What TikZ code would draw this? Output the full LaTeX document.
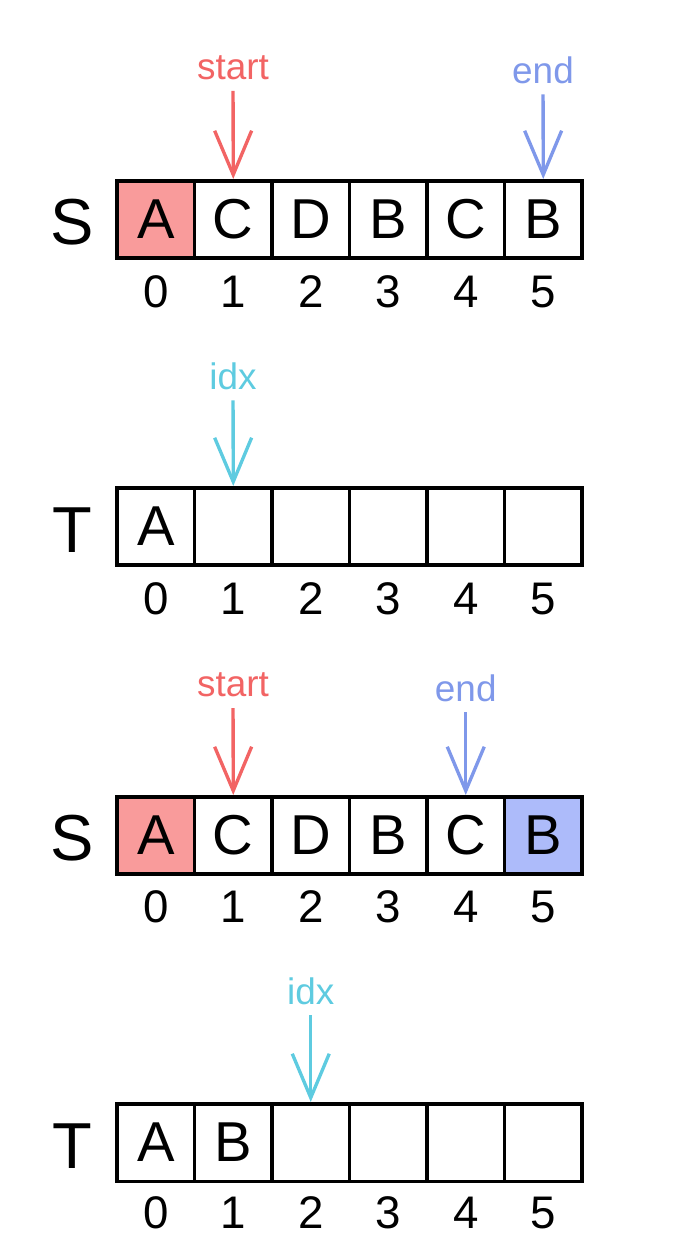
\documentclass[tikz,border=0pt]{standalone}
\usepackage{fontspec}
\setmainfont{Liberation Sans}
\usetikzlibrary{arrows.meta, positioning}

\definecolor{startred}{HTML}{F26464}
\definecolor{startfill}{HTML}{F99B9B}
\definecolor{endblue}{HTML}{7F98EA}
\definecolor{endfill}{HTML}{ADBBFA}
\definecolor{idxcyan}{HTML}{5ECBE0}

\begin{document}
\begin{tikzpicture}[x=0.02cm, y=-0.02cm,
  cell/.style={rectangle, draw, line width=2pt, minimum size=1.55cm,
    inner sep=0pt, font=\fontsize{32}{32}\selectfont},
  num/.style={font=\fontsize{26}{26}\selectfont},
  rowname/.style={font=\fontsize{37}{37}\selectfont},
  ptr/.style={font=\fontsize{21}{21}\selectfont, inner sep=6pt},
  arr/.style={-{Straight Barb[length=0.88cm, width=0.74cm]}, line width=1.9pt}
]
\useasboundingbox (0,0) rectangle (698,1256);

% Row 1: S
\node[rowname] (s1) at (72,222) {S};
\foreach \i/\c/\f in {0/A/startfill, 1/C/white, 2/D/white, 3/B/white, 4/C/white, 5/B/white} {
  \node[cell, fill=\f] (sa\i) at (155.75+77.5*\i, 219.5) {\c};
  \node[num] (na\i) at (155.75+77.5*\i, 292) {\i};
}
\node[ptr, text=startred] (starta) at (233,68) {start};
\node[ptr, text=endblue] (enda) at (543,70) {end};

% Row 2: T
\node[rowname] (t1) at (72,530) {T};
\foreach \i/\c in {0/A, 1/, 2/, 3/, 4/, 5/} {
  \node[cell] (ta\i) at (155.75+77.5*\i, 526.5) {\c};
  \node[num] (ma\i) at (155.75+77.5*\i, 599) {\i};
}
\node[ptr, text=idxcyan] (idxa) at (233,376) {idx};

% Row 3: S
\node[rowname] (s2) at (72,838) {S};
\foreach \i/\c/\f in {0/A/startfill, 1/C/white, 2/D/white, 3/B/white, 4/C/white, 5/B/endfill} {
  \node[cell, fill=\f] (sb\i) at (155.75+77.5*\i, 835.5) {\c};
  \node[num] (nb\i) at (155.75+77.5*\i, 907) {\i};
}
\node[ptr, text=startred] (startb) at (233,685) {start};
\node[ptr, text=endblue] (endb) at (465.75,688) {end};

% Row 4: T
\node[rowname] (t2) at (72,1146) {T};
\foreach \i/\c in {0/A, 1/B, 2/, 3/, 4/, 5/} {
  \node[cell] (tb\i) at (155.75+77.5*\i, 1142.5) {\c};
  \node[num] (mb\i) at (155.75+77.5*\i, 1213) {\i};
}
\node[ptr, text=idxcyan] (idxb) at (310.75,991) {idx};

% Arrows
\draw[arr, startred] (starta) -- (sa1.north);
\draw[arr, endblue] (enda) -- (sa5.north);
\draw[arr, idxcyan] (idxa) -- (ta1.north);
\draw[arr, startred] (startb) -- (sb1.north);
\draw[arr, endblue] (endb) -- (sb4.north);
\draw[arr, idxcyan] (idxb) -- (tb2.north);

\end{tikzpicture}
\end{document}
